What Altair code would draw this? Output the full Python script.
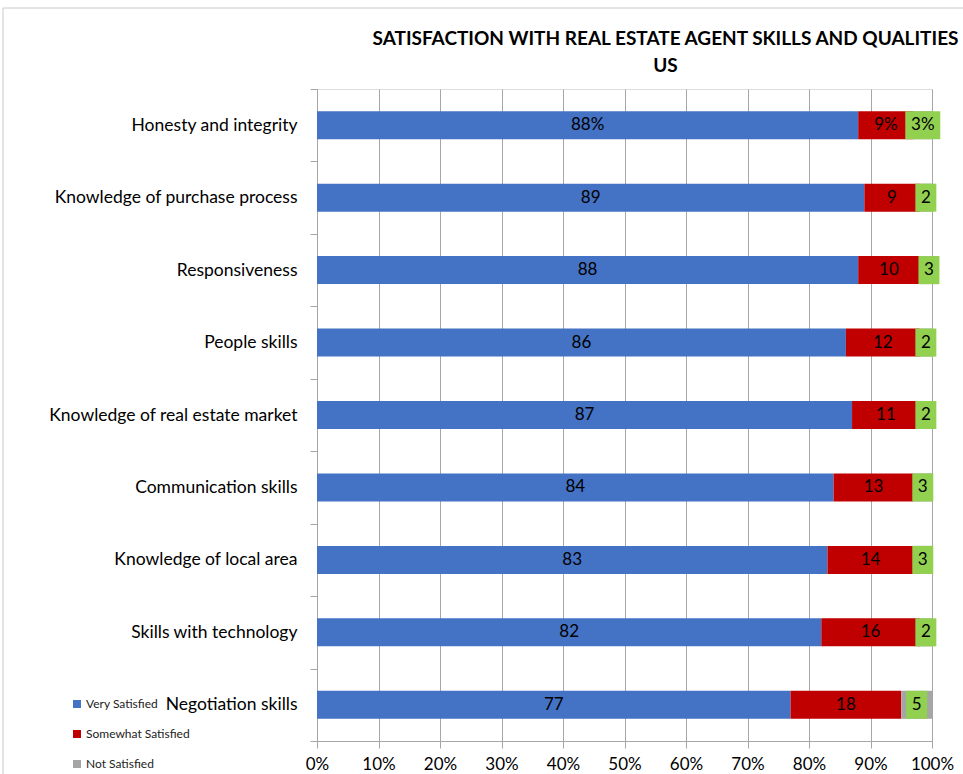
import altair as alt
import pandas as pd

# ---- data ----
skills = [
    "Honesty and integrity",
    "Knowledge of purchase process",
    "Responsiveness",
    "People skills",
    "Knowledge of real estate market",
    "Communication skills",
    "Knowledge of local area",
    "Skills with technology",
    "Negotiation skills",
]
very_satisfied = [88, 89, 88, 86, 87, 84, 83, 82, 77]
somewhat_satisfied = [9, 9, 10, 12, 11, 13, 14, 16, 18]
not_satisfied = [3, 2, 3, 2, 2, 3, 3, 2, 5]

series_names = ["Very Satisfied", "Somewhat Satisfied", "Not Satisfied"]
series_colors = ["#4472C4", "#C00000", "#A5A5A5"]
label_fill = "#92D050"
x_ticks = list(range(0, 101, 10))

rows = []
for i, skill in enumerate(skills):
    for j, (name, vals) in enumerate(zip(series_names, [very_satisfied, somewhat_satisfied, not_satisfied])):
        v = vals[i]
        rows.append({
            "skill": skill,
            "series": name,
            "order": j,
            "value": v,
            "label": f"{v}%" if i == 0 else f"{v}",
        })
df = pd.DataFrame(rows)

FONT = "Lato"
GRID = "#a6a6a6"

base = alt.Chart(df).transform_stack(
    stack="value",
    groupby=["skill"],
    sort=[alt.SortField("order", order="ascending")],
    as_=["x0", "x1"],
).transform_calculate(mid="(datum.x0 + datum.x1) / 2")

y_enc = alt.Y(
    "skill:N",
    sort=skills,
    scale=alt.Scale(paddingInner=0, paddingOuter=0),
    axis=alt.Axis(
        title=None,
        domainColor=GRID,
        tickColor=GRID,
        tickSize=7,
        tickBand="extent",
        labelFont=FONT,
        labelFontSize=17.5,
        labelColor="black",
        labelPadding=13,
        labelLimit=400,
        grid=False,
    ),
)

x_scale = alt.Scale(domain=[0, 100], nice=False)

bars = base.mark_bar(size=28).encode(
    y=y_enc,
    x=alt.X(
        "x0:Q",
        scale=x_scale,
        axis=alt.Axis(
            title=None,
            values=x_ticks,
            labelExpr="datum.value + '%'",
            labelFlush=False,
            grid=True,
            gridColor=GRID,
            domainColor=GRID,
            tickColor=GRID,
            tickSize=7,
            labelFont=FONT,
            labelFontSize=17,
            labelColor="black",
            labelPadding=8,
        ),
    ),
    x2="x1:Q",
    color=alt.Color(
        "series:N",
        scale=alt.Scale(domain=series_names, range=series_colors),
        legend=alt.Legend(
            title=None,
            orient="none",
            legendX=-246,
            legendY=609,
            symbolType="square",
            symbolSize=64,
            symbolStrokeWidth=0,
            labelFont=FONT,
            labelFontSize=12,
            labelColor="#222222",
            labelOffset=3,
            rowPadding=18,
        ),
    ),
)

ns = base.transform_filter("datum.series == 'Not Satisfied'")
box_short = ns.transform_filter("indexof(datum.label, '%') < 0").mark_bar(
    size=28, color=label_fill, xOffset=-10.5, x2Offset=10.5
).encode(y=alt.Y("skill:N", sort=skills), x=alt.X("mid:Q", scale=x_scale), x2="mid:Q")
box_long = ns.transform_filter("indexof(datum.label, '%') >= 0").mark_bar(
    size=28, color=label_fill, xOffset=-17.5, x2Offset=17.5
).encode(y=alt.Y("skill:N", sort=skills), x=alt.X("mid:Q", scale=x_scale), x2="mid:Q")

texts = base.mark_text(font=FONT, fontSize=17, color="black").encode(
    y=alt.Y("skill:N", sort=skills),
    x=alt.X("mid:Q", scale=x_scale),
    text="label:N",
)

frame_df = pd.DataFrame({"k": [0]})
border_left = alt.Chart(frame_df).mark_rule(color="#c8c8c8", strokeWidth=1).encode(
    x=alt.value(-314), y=alt.value(-81), y2=alt.value(700)
)
border_top = alt.Chart(frame_df).mark_rule(color="#c8c8c8", strokeWidth=1).encode(
    x=alt.value(-314), x2=alt.value(660), y=alt.value(-81)
)

chart = alt.layer(bars, box_short, box_long, texts, border_left, border_top).properties(
    width=615,
    height=652,
    title=alt.TitleParams(
        text=["SATISFACTION WITH REAL ESTATE AGENT SKILLS AND QUALITIES", "US"],
        font=FONT,
        fontSize=19,
        fontWeight="bold",
        color="black",
        anchor="middle",
        frame="group",
        dx=41,
        dy=68,
        offset=0,
        lineHeight=27,
    ),
    autosize=alt.AutoSizeParams(type="none"),
    padding={"left": 317, "top": 89, "right": 31, "bottom": 33},
).configure_view(stroke=None).configure(background="white")

chart.save("out.html", embed_options={"renderer": "svg", "actions": False})
